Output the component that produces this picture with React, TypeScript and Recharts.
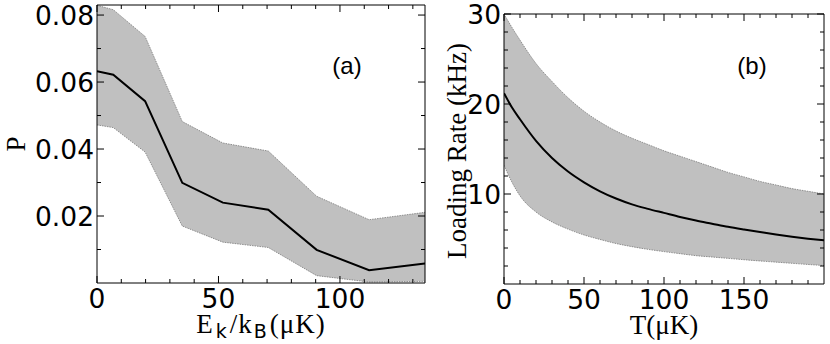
import React from "react";
import { Area, ComposedChart, Label, Line, ReferenceLine, XAxis, YAxis } from "recharts";

// panel (a): capture probability vs kinetic energy
const A_ENERGY = [0, 6.7, 19.8, 35.1, 51.8, 70.5, 90.4, 112, 135];
const A_P = [0.0632, 0.0622, 0.0543, 0.0299, 0.024, 0.0219, 0.0099, 0.0038, 0.0058];
const A_P_HIGH = [0.0829, 0.0816, 0.0736, 0.0482, 0.0418, 0.0394, 0.0259, 0.0189, 0.0211];
const A_P_LOW = [0.0472, 0.0464, 0.0391, 0.017, 0.0122, 0.0106, 0.0022, 0.0003, 0.0005];

const A_X_TICKS = [0, 10, 20, 30, 40, 50, 60, 70, 80, 90, 100, 110, 120, 130];
const A_X_LABELS = [0, 50, 100];
const A_Y_TICKS = [0.01, 0.02, 0.03, 0.04, 0.05, 0.06, 0.07, 0.08];
const A_Y_LABELS = [0.02, 0.04, 0.06, 0.08];

// panel (b): loading rate vs temperature
const B_TEMP = [0, 5, 10, 20, 30, 40, 50, 60, 70, 80, 90, 100, 110, 120, 130, 140, 150, 160, 170, 180, 190, 200];
const B_RATE = [21.2, 19.6, 18.3, 15.9, 14.0, 12.5, 11.3, 10.3, 9.5, 8.85, 8.35, 7.9, 7.45, 7.05, 6.7, 6.35, 6.05, 5.77, 5.5, 5.26, 5.04, 4.85];
const B_RATE_HIGH = [30.0, 28.5, 27.1, 24.5, 22.5, 20.7, 19.2, 18.0, 17.0, 16.2, 15.5, 14.8, 14.2, 13.6, 13.0, 12.4, 11.9, 11.4, 11.0, 10.6, 10.3, 10.0];
const B_RATE_LOW = [13.2, 11.3, 9.8, 8.0, 6.9, 6.1, 5.45, 4.95, 4.5, 4.15, 3.85, 3.6, 3.37, 3.15, 3.0, 2.85, 2.7, 2.56, 2.43, 2.3, 2.17, 2.05];

const B_X_TICKS = [0, 10, 20, 30, 40, 50, 60, 70, 80, 90, 100, 110, 120, 130, 140, 150, 160, 170, 180, 190];
const B_X_LABELS = [0, 50, 100, 150];
const B_Y_TICKS = [2, 4, 6, 8, 10, 12, 14, 16, 18, 20, 22, 24, 26, 28, 30];
const B_Y_LABELS = [10, 20, 30];

const dataA = A_ENERGY.map((e, i) => ({ x: e, p: A_P[i], band: [A_P_LOW[i], A_P_HIGH[i]] }));
const dataB = B_TEMP.map((t, i) => ({ x: t, p: B_RATE[i], band: [B_RATE_LOW[i], B_RATE_HIGH[i]] }));

const TICK_FONT = "'DejaVu Sans', sans-serif";
const TITLE_FONT = "'Liberation Serif', 'Times New Roman', serif";
const BAND_FILL = "#c0c0c0";
const BAND_EDGE = "#7a7a7a";

// chart boxes; axes get a 1px band (a zero-size axis is not drawn)
const A_W = 440;
const A_H = 344;
const A_MARGIN = { top: 5, right: 15, bottom: 60, left: 96 };
const A_PLOT_W = A_W - A_MARGIN.left - A_MARGIN.right - 1;
const A_PLOT_H = A_H - A_MARGIN.top - A_MARGIN.bottom - 1;

const B_W = 400;
const B_H = 344;
const B_MARGIN = { top: 14, right: 6, bottom: 59, left: 73 };
const B_PLOT_W = B_W - B_MARGIN.left - B_MARGIN.right - 1;
const B_PLOT_H = B_H - B_MARGIN.top - B_MARGIN.bottom - 1;

// inward ticks, matplotlib style, mirrored on the opposite side of the frame
function makeTick(side: "bottom" | "left", span: number, labels: number[], fmt: (v: number) => string = String) {
  return (props: any) => {
    const { x, y, payload } = props;
    const v = payload.value as number;
    const major = labels.some((l) => Math.abs(l - v) < 1e-9);
    const len = major ? 7 : 4;
    if (side === "bottom") {
      return (
        <g>
          <g stroke="#000" strokeWidth={1}>
            <line x1={x} x2={x} y1={y} y2={y - len} />
            <line x1={x} x2={x} y1={y - span} y2={y - span + len} />
          </g>
          {major && (
            <text x={x} y={y + 25} textAnchor="middle" fontFamily={TICK_FONT} fontSize={26.5} fill="#000">
              {fmt(v)}
            </text>
          )}
        </g>
      );
    }
    return (
      <g>
        <g stroke="#000" strokeWidth={1}>
          <line x1={x} x2={x + len} y1={y} y2={y} />
          <line x1={x + span} x2={x + span - len} y1={y} y2={y} />
        </g>
        {major && (
          <text x={x - 3} y={y} dy="0.36em" textAnchor="end" fontFamily={TICK_FONT} fontSize={26.5} fill="#000">
            {fmt(v)}
          </text>
        )}
      </g>
    );
  };
}

function xTitle(content: React.ReactNode, spacing = 0) {
  return (props: any) => {
    const vb = props.viewBox;
    return (
      <text
        x={vb.x + vb.width / 2}
        y={vb.y + 50}
        textAnchor="middle"
        fontFamily={TITLE_FONT}
        fontSize={27}
        letterSpacing={spacing}
        fill="#000"
      >
        {content}
      </text>
    );
  };
}

function yTitle(text: string, dx: number, dy: number) {
  return (props: any) => {
    const vb = props.viewBox;
    const cx = vb.x + dx;
    const cy = vb.y + vb.height / 2 + dy;
    return (
      <text x={cx} y={cy} transform={`rotate(-90 ${cx} ${cy})`} textAnchor="middle" fontFamily={TITLE_FONT} fontSize={27} fill="#000">
        {text}
      </text>
    );
  };
}

const axisLine = { stroke: "#000", strokeWidth: 1 };
const SUB = { fontFamily: TICK_FONT, fontSize: 19 };

function PanelA() {
  return (
    <ComposedChart width={A_W} height={A_H} data={dataA} margin={A_MARGIN}>
      <XAxis
        dataKey="x"
        type="number"
        domain={[0, 135]}
        ticks={A_X_TICKS}
        interval={0}
        allowDataOverflow
        height={1}
        tickSize={0}
        tickMargin={0}
        tickLine={false}
        axisLine={axisLine}
        tick={makeTick("bottom", A_PLOT_H, A_X_LABELS)}
      >
        <Label
          content={xTitle(
            <>
              E<tspan {...SUB} dx={2} dy={5}>k</tspan>
              <tspan dx={2} dy={-5}>/k</tspan>
              <tspan {...SUB} dx={1} dy={5}>B</tspan>
              <tspan dx={2} dy={-5}>(μK)</tspan>
            </>,
            1
          )}
        />
      </XAxis>
      <YAxis
        type="number"
        domain={[0, 0.083]}
        ticks={A_Y_TICKS}
        interval={0}
        allowDataOverflow
        width={1}
        tickSize={0}
        tickMargin={0}
        tickLine={false}
        axisLine={axisLine}
        tick={makeTick("left", A_PLOT_W, A_Y_LABELS, (v) => v.toFixed(2))}
      >
        <Label content={yTitle("P", -71, 0)} />
      </YAxis>
      <Area
        type="linear"
        dataKey="band"
        fill={BAND_FILL}
        fillOpacity={1}
        stroke={BAND_EDGE}
        strokeWidth={0.8}
        strokeDasharray="1.5 1"
        isAnimationActive={false}
        dot={false}
        activeDot={false}
      />
      <Line type="linear" dataKey="p" stroke="#000" strokeWidth={2} dot={false} activeDot={false} isAnimationActive={false} />
      {/* top and right sides of the frame */}
      <ReferenceLine y={0.083} stroke="#000" strokeWidth={1} />
      <ReferenceLine x={135} stroke="#000" strokeWidth={1} />
    </ComposedChart>
  );
}

function PanelB() {
  return (
    <ComposedChart width={B_W} height={B_H} data={dataB} margin={B_MARGIN}>
      <XAxis
        dataKey="x"
        type="number"
        domain={[0, 200]}
        ticks={B_X_TICKS}
        interval={0}
        allowDataOverflow
        height={1}
        tickSize={0}
        tickMargin={0}
        tickLine={false}
        axisLine={axisLine}
        tick={makeTick("bottom", B_PLOT_H, B_X_LABELS)}
      >
        <Label content={xTitle("T(μK)")} />
      </XAxis>
      <YAxis
        type="number"
        domain={[0, 30]}
        ticks={B_Y_TICKS}
        interval={0}
        allowDataOverflow
        width={1}
        tickSize={0}
        tickMargin={0}
        tickLine={false}
        axisLine={axisLine}
        tick={makeTick("left", B_PLOT_W, B_Y_LABELS)}
      >
        <Label content={yTitle("Loading Rate (kHz)", -37.5, 2)} />
      </YAxis>
      <Area
        type="monotone"
        dataKey="band"
        fill={BAND_FILL}
        fillOpacity={1}
        stroke={BAND_EDGE}
        strokeWidth={0.8}
        strokeDasharray="1.5 1"
        isAnimationActive={false}
        dot={false}
        activeDot={false}
      />
      <Line type="monotone" dataKey="p" stroke="#000" strokeWidth={2} dot={false} activeDot={false} isAnimationActive={false} />
      <ReferenceLine y={30} stroke="#000" strokeWidth={1} />
      <ReferenceLine x={200} stroke="#000" strokeWidth={1} />
    </ComposedChart>
  );
}

export default function App() {
  return (
    <div style={{ position: "absolute", left: 0, top: 0, width: 830, height: 344, background: "#fff" }}>
      <div style={{ position: "absolute", left: 0, top: 0 }}>
        <PanelA />
      </div>
      <div style={{ position: "absolute", left: 430, top: 0 }}>
        <PanelB />
      </div>
      <svg width={830} height={344} style={{ position: "absolute", left: 0, top: 0, pointerEvents: "none" }}>
        <text x={347} y={74} textAnchor="middle" fontFamily="'Liberation Sans', Arial, sans-serif" fontSize={24} fill="#000">
          (a)
        </text>
        <text x={752} y={74} textAnchor="middle" fontFamily="'Liberation Sans', Arial, sans-serif" fontSize={24} fill="#000">
          (b)
        </text>
      </svg>
    </div>
  );
}
